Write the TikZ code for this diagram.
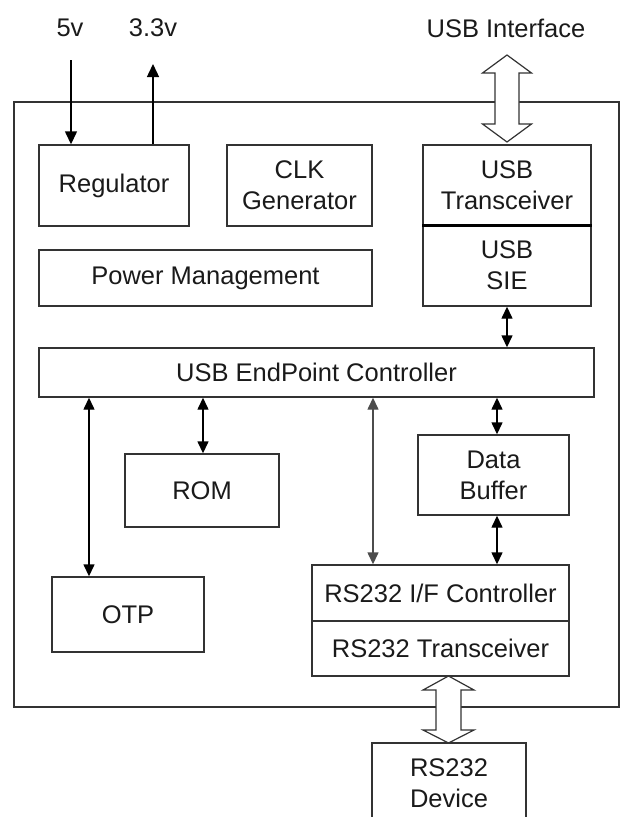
\documentclass[tikz,border=0pt]{standalone}
\usepackage{fontspec}
\setmainfont{Liberation Sans}
\usetikzlibrary{arrows.meta,calc}
\definecolor{ln}{HTML}{333333}
\definecolor{tx}{HTML}{1A1A1A}
\tikzset{
  blk/.style={draw=ln, line width=1.4pt, rectangle, inner sep=0pt, align=center, text=tx,
    font=\fontsize{25.5}{31}\selectfont},
  lbl/.style={inner sep=0pt, text=tx, font=\fontsize{25.5}{31}\selectfont},
  sarr/.style={draw=black, line width=1.4pt, -{Triangle[length=13pt,width=12pt]}},
  darr/.style={draw=black, line width=1.4pt, {Triangle[length=12pt,width=11pt]}-{Triangle[length=12pt,width=11pt]}},
  garr/.style={darr, draw=black!70, color=black!70},
  hollow/.style={draw=ln, fill=white, line width=1.2pt, line join=miter},
}
\begin{document}
\begin{tikzpicture}[x=1pt,y=-1pt]
\useasboundingbox (0,0) rectangle (624,817);
% outer chip frame
\draw[draw=ln, line width=1.4pt] (14,102) rectangle (619,707);
% labels
\node[lbl] (l5) at (70,28) {5v};
\node[lbl] (l33) at (153,28) {3.3v};
\node[lbl] (lusb) at (506,28) {USB Interface};
% blocks
\node[blk, minimum width=150pt, minimum height=81pt] (reg) at (114,185.5) {Regulator};
\node[blk, minimum width=145pt, minimum height=81pt] (clk) at (299.5,185.5) {CLK\\Generator};
\node[blk, minimum width=168pt, minimum height=80pt] (utr) at (507,185) {USB\\Transceiver};
\node[blk, minimum width=168pt, minimum height=81pt] (sie) at (507,265.5) {USB\\SIE};
\draw[black, line width=2.6pt] (utr.south west) -- (utr.south east);
\node[blk, minimum width=333pt, minimum height=56pt] (pm) at (205.5,278) {Power Management};
\node[blk, minimum width=555pt, minimum height=49pt] (ep) at (316.5,372.5) {USB EndPoint Controller};
\node[blk, minimum width=154pt, minimum height=73pt] (rom) at (202,490.5) {ROM};
\node[blk, minimum width=152pt, minimum height=75pt] (otp) at (128,614.5) {OTP};
\node[blk, minimum width=151pt, minimum height=80pt] (buf) at (493.5,475) {Data\\Buffer};
\node[blk, minimum width=257pt, minimum height=56pt] (rsif) at (440.5,593) {RS232 I/F Controller};
\node[blk, minimum width=257pt, minimum height=55pt] (rstr) at (440.5,648.5) {RS232 Transceiver};
\node[blk, minimum width=154pt, minimum height=80pt] (dev) at (449,783) {RS232\\Device};
% power arrows
\coordinate (v5top) at (71,60);
\coordinate (v33top) at (153,64);
\draw[sarr] (v5top) -- (reg.north -| v5top);
\draw[sarr] (reg.north -| v33top) -- (v33top);
% internal bus arrows
\coordinate (xo) at (89,0);
\coordinate (xr) at (203,0);
\coordinate (xs) at (373,0);
\coordinate (xb) at (497,0);
\coordinate (xu) at (507,0);
\draw[darr] (sie.south -| xu) -- (ep.north -| xu);
\draw[darr] (ep.south -| xo) -- (otp.north -| xo);
\draw[darr] (ep.south -| xr) -- (rom.north -| xr);
\draw[garr] (ep.south -| xs) -- (rsif.north -| xs);
\draw[darr] (ep.south -| xb) -- (buf.north -| xb);
\draw[darr] (buf.south -| xb) -- (rsif.north -| xb);
% hollow double arrows
\draw[hollow] (507,55) -- (531.5,73) -- (519,73) -- (519,124) -- (531.5,124) -- (507,142)
  -- (482.5,124) -- (495,124) -- (495,73) -- (482.5,73) -- cycle;
\draw[hollow] (448.5,676) -- (474,690) -- (461,690) -- (461,730) -- (474,730) -- (448.5,743)
  -- (423,730) -- (436,730) -- (436,690) -- (423,690) -- cycle;
\end{tikzpicture}
\end{document}
